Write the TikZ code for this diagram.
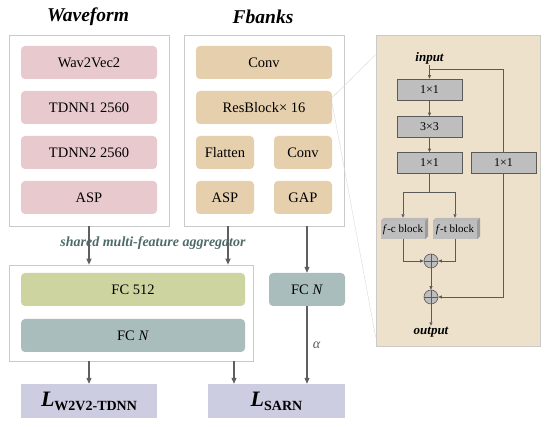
\documentclass[tikz,border=0pt]{standalone}
\usepackage{fontspec}
\setmainfont{Liberation Serif}
\usetikzlibrary{arrows.meta,positioning}
\definecolor{SARNPink}{HTML}{E8C9CD}
\definecolor{SARNTan}{HTML}{E6CFAD}
\definecolor{SARNOlive}{HTML}{CDD49F}
\definecolor{SARNSage}{HTML}{A9BEBC}
\definecolor{SARNLilac}{HTML}{CDCDE1}
\definecolor{SARNPaper}{HTML}{EDE1CB}
\definecolor{SARNLine}{HTML}{CACACA}
\definecolor{SARNFlow}{HTML}{5F5F5F}
\definecolor{SARNGrey}{HTML}{BEBEBE}
\definecolor{SARNEdge}{HTML}{5A5A5A}
\definecolor{SARNShade}{HTML}{9C9C9C}
\definecolor{SARNNote}{HTML}{4D6B6A}
\newcommand{\fsz}[1]{\fontsize{#1}{#1}\selectfont}
\tikzset{
  sarnpanel/.style={
    draw=SARNLine,
    fill=white,
    line width=0.6pt,
    inner sep=0pt
  },
  sarnlayer/.style={
    rounded corners=4pt,
    minimum height=33pt,
    inner sep=0pt,
    font=\fsz{14.5}
  },
  sarnloss/.style={
    fill=SARNLilac,
    minimum width=136pt,
    minimum height=34pt,
    inner sep=0pt
  },
  sarnconv/.style={
    draw=SARNEdge,
    fill=SARNGrey,
    line width=0.6pt,
    minimum width=65pt,
    minimum height=21pt,
    inner sep=0pt,
    font=\fsz{12}
  },
  sarnblock/.style={
    fill=SARNGrey,
    minimum width=44pt,
    minimum height=18pt,
    inner sep=0pt,
    font=\fsz{11}
  },
  sarnsum/.style={
    circle,
    draw=SARNEdge,
    fill=SARNGrey,
    line width=0.6pt,
    minimum size=14pt,
    inner sep=0pt,
    path picture={\draw[SARNEdge,line width=0.6pt]
      (path picture bounding box.north) -- (path picture bounding box.south)
      (path picture bounding box.west) -- (path picture bounding box.east);}
  },
  sarnflow/.style={-{Triangle[length=6pt,width=5pt]},draw=SARNFlow,line width=1.1pt},
  sarnthin/.style={-{Triangle[length=3.5pt,width=3pt]},draw=SARNEdge,line width=0.7pt},
  sarnline/.style={draw=SARNEdge,line width=0.7pt},
  sarnzoom/.style={draw=SARNLine!70,line width=0.4pt}
}

\begin{document}
\begin{tikzpicture}[
  x=1pt,y=-1pt,
  title/.style={font=\fsz{19.5}\bfseries\itshape},
  wave/.style={sarnlayer,fill=SARNPink,minimum width=136pt},
  fbank/.style={sarnlayer,fill=SARNTan,minimum width=136pt},
  fbhalf/.style={sarnlayer,fill=SARNTan,minimum width=58pt},
  tag/.style={font=\fsz{13}\bfseries\itshape,inner sep=1pt}
]
  \useasboundingbox (0,0) rectangle (550,427);

  % input branches
  \node[title] (wavetitle) at (88,17) {Waveform};
  \node[title] (fbtitle) at (263,17) {Fbanks};

  \node[sarnpanel,minimum width=160pt,minimum height=191pt] (wavepanel) at (89,130.5) {};
  \node[sarnpanel,minimum width=160pt,minimum height=191pt] (fbpanel) at (264,130.5) {};

  \node[wave] (w2v) at (89,62.5) {Wav2Vec2};
  \node[wave] (tdnn1) at (89,107.5) {TDNN1 2560};
  \node[wave] (tdnn2) at (89,152.5) {TDNN2 2560};
  \node[wave] (waveasp) at (89,197.5) {ASP};

  \node[fbank] (fbconv) at (264,62.5) {Conv};
  \node[fbank] (resblock) at (264,107.5) {ResBlock\texttimes{} 16};
  \node[fbhalf] (flatten) at (225,152.5) {Flatten};
  \node[fbhalf] (fbconvb) at (303,152.5) {Conv};
  \node[fbhalf] (fbasp) at (225,197.5) {ASP};
  \node[fbhalf] (gap) at (303,197.5) {GAP};

  % shared aggregator and losses
  \node[font=\fsz{14}\bfseries\itshape,text=SARNNote] (aggtitle) at (153,243) {shared multi-feature aggregator};
  \node[sarnpanel,minimum width=244pt,minimum height=96pt] (aggpanel) at (131,313) {};
  \node[sarnlayer,fill=SARNOlive,minimum width=224pt] (fc512) at (133,289.5) {FC 512};
  \node[sarnlayer,fill=SARNSage,minimum width=224pt] (fcn) at (133,335.5) {FC \textit{N}};
  \node[sarnlayer,fill=SARNSage,minimum width=76pt] (fcnsarn) at (307,289.5) {FC \textit{N}};

  \node[sarnloss] (lossw2v) at (89,401) {\fsz{22}\bfseries\itshape L\raisebox{-4pt}{\fsz{14}\upshape W2V2-TDNN}};
  \node[sarnloss,minimum width=137pt] (losssarn) at (276.5,401) {\fsz{22}\bfseries\itshape L\raisebox{-4pt}{\fsz{14}\upshape SARN}};

  \draw[sarnflow] (wavepanel.south) -- (wavepanel.south |- aggpanel.north);
  \draw[sarnflow] ([xshift=-36pt]fbpanel.south) -- ([xshift=-36pt]fbpanel.south |- aggpanel.north);
  \draw[sarnflow] (fcnsarn.north |- fbpanel.south) -- (fcnsarn.north);
  \draw[sarnflow] (fcnsarn.south) -- node[right=2pt,font=\fsz{14}\itshape,text=SARNEdge] (alpha) {α} (fcnsarn.south |- losssarn.north);
  \draw[sarnflow] (aggpanel.south -| lossw2v.north) -- (lossw2v.north);
  \draw[sarnflow] ([xshift=-42.5pt]losssarn.north |- aggpanel.south) -- ([xshift=-42.5pt]losssarn.north);

  % residual block detail
  \node[draw=SARNLine,fill=SARNPaper,line width=0.6pt,minimum width=164pt,minimum height=311pt,inner sep=0pt] (respanel) at (458,190.5) {};
  \draw[sarnzoom] ([yshift=10pt]resblock.east) -- ([yshift=-20pt]respanel.north west);
  \draw[sarnzoom] ([yshift=4pt]resblock.east) -- ([yshift=9pt]respanel.south west);

  \node[tag] (inlabel) at (429.5,58) {input};
  \node[sarnconv] (conva) at (429.5,89.5) {1\texttimes1};
  \node[sarnconv] (convb) at (429.5,127) {3\texttimes3};
  \node[sarnconv] (convc) at (429.5,163) {1\texttimes1};
  \node[sarnconv] (convskip) at (503.5,163) {1\texttimes1};
  \coordinate (split) at (429.5,69);
  \coordinate (fork) at (429.5,192);

  \node[sarnblock] (fcblock) at (403,230) {\textit{f}-c block};
  \node[sarnblock] (ftblock) at (455,230) {\textit{f}-t block};
  \foreach \blk in {fcblock,ftblock}{
    \fill[SARNShade!70] (\blk.north west) -- ++(3,-3) -- ([shift={(3pt,3pt)}]\blk.north east) -- (\blk.north east) -- cycle;
    \fill[SARNShade] (\blk.north east) -- ++(3,-3) -- ([shift={(3pt,3pt)}]\blk.south east) -- (\blk.south east) -- cycle;
  }

  \node[sarnsum] (suma) at (431,261) {};
  \node[sarnsum] (sumb) at (431,297) {};
  \node[tag] (outlabel) at (431,332) {output};

  \draw[sarnthin] (inlabel.south) -- (conva.north);
  \draw[sarnline] (split) -| (convskip.north);
  \draw[sarnthin] (conva.south) -- (convb.north);
  \draw[sarnthin] (convb.south) -- (convc.north);
  \draw[sarnline] (convc.south) -- (fork);
  \draw[sarnthin] (fork) -| ([yshift=3pt]fcblock.north);
  \draw[sarnthin] (fork) -| ([yshift=3pt]ftblock.north);
  \draw[sarnthin] (fcblock.south) |- (suma.west);
  \draw[sarnthin] (ftblock.south) |- (suma.east);
  \draw[sarnthin] (suma.south) -- (sumb.north);
  \draw[sarnthin] (convskip.south) |- (sumb.east);
  \draw[sarnthin] (sumb.south) -- (outlabel.north);
\end{tikzpicture}
\end{document}
